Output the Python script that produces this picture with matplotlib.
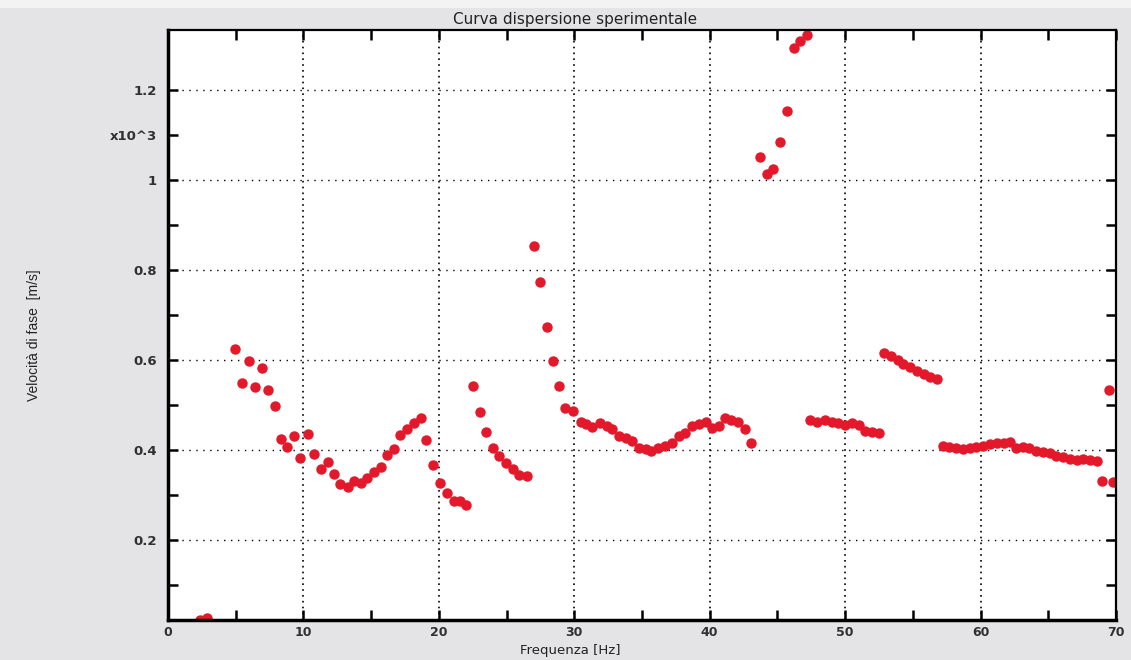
import matplotlib
matplotlib.use("Agg")
import matplotlib.pyplot as plt
from matplotlib.patches import Rectangle
from matplotlib.ticker import FixedLocator, FixedFormatter, MultipleLocator

freq = [2.4, 2.9,
        4.96, 5.46, 5.95, 6.44, 6.94, 7.38, 7.88, 8.35, 8.79, 9.33, 9.78, 10.35,
        10.81, 11.31, 11.8, 12.25, 12.74, 13.28, 13.73, 14.22, 14.72, 15.21, 15.7,
        16.2, 16.69, 17.17, 17.65, 18.17, 18.67, 19.09, 19.6, 20.1, 20.59, 21.09,
        21.58, 22.0, 22.54, 23.04, 23.48, 23.98, 24.47, 24.96, 25.46, 25.95, 26.5,
        27.01, 27.5, 28.0, 28.45, 28.85, 29.3, 29.9, 30.47, 30.9, 31.3, 31.9, 32.4,
        32.8, 33.3, 33.8, 34.3, 34.8, 35.3, 35.7, 36.2, 36.7, 37.2, 37.7, 38.2,
        38.7, 39.2, 39.7, 40.2, 40.7, 41.1, 41.6, 42.1, 42.6, 43.06,
        43.7, 44.2, 44.7, 45.2, 45.7, 46.2, 46.7, 47.2,
        47.4, 47.9, 48.5, 49.0, 49.5, 50.0, 50.5, 51.0, 51.5, 52.0, 52.5,
        52.9, 53.4, 53.9, 54.3, 54.8, 55.3, 55.8, 56.3, 56.8,
        57.2, 57.7, 58.2, 58.7, 59.2, 59.7, 60.2, 60.7, 61.2, 61.7, 62.2, 62.6,
        63.1, 63.6, 64.1, 64.6, 65.1, 65.6, 66.1, 66.6, 67.1, 67.6, 68.1, 68.6,
        69.0, 69.45, 69.8]
vel = [0.022, 0.026,
       0.624, 0.548, 0.598, 0.540, 0.581, 0.533, 0.498, 0.424, 0.407, 0.431, 0.383, 0.436,
       0.390, 0.357, 0.373, 0.346, 0.324, 0.318, 0.331, 0.327, 0.338, 0.350, 0.361,
       0.389, 0.402, 0.434, 0.447, 0.459, 0.471, 0.421, 0.367, 0.327, 0.305, 0.287,
       0.287, 0.277, 0.542, 0.484, 0.440, 0.404, 0.387, 0.370, 0.357, 0.344, 0.342,
       0.853, 0.772, 0.673, 0.598, 0.541, 0.494, 0.487, 0.463, 0.458, 0.450, 0.459, 0.453,
       0.446, 0.431, 0.426, 0.420, 0.405, 0.402, 0.398, 0.404, 0.409, 0.416, 0.431, 0.437,
       0.452, 0.458, 0.463, 0.448, 0.453, 0.470, 0.467, 0.461, 0.446, 0.415,
       1.050, 1.013, 1.024, 1.085, 1.152, 1.294, 1.309, 1.322,
       0.467, 0.463, 0.467, 0.463, 0.459, 0.456, 0.459, 0.456, 0.443, 0.439, 0.437,
       0.616, 0.609, 0.600, 0.591, 0.584, 0.576, 0.569, 0.563, 0.557,
       0.409, 0.406, 0.404, 0.403, 0.404, 0.407, 0.409, 0.413, 0.415, 0.416, 0.418, 0.404,
       0.407, 0.404, 0.398, 0.396, 0.393, 0.387, 0.385, 0.379, 0.378, 0.379, 0.378, 0.376,
       0.330, 0.533, 0.328]

yticks = [0.2, 0.4, 0.6, 0.8, 1.0, 1.1, 1.2]
ylabels = ["0.2", "0.4", "0.6", "0.8", "1", "x10^3", "1.2"]

fig = plt.figure(figsize=(11.31, 6.6), dpi=100, facecolor="#e4e4e7")
# lighter strip at the very top of the scan
fig.patches.append(Rectangle((0, 1 - 8 / 660), 1, 8 / 660, transform=fig.transFigure,
                             facecolor="#f3f3f3", edgecolor="none"))
ax = fig.add_axes([0.1485, 0.0606, 0.8382, 0.894])
ax.set_facecolor("white")

ax.plot(freq, vel, linestyle="none", marker="o", markersize=6.5,
        color="#e3182a", markeredgecolor="#e3182a")

ax.set_xlim(0, 70)
ax.set_ylim(0.022, 1.333)

ax.xaxis.set_major_locator(MultipleLocator(10))
ax.xaxis.set_minor_locator(MultipleLocator(5))
ax.yaxis.set_major_locator(FixedLocator(yticks))
ax.yaxis.set_major_formatter(FixedFormatter(ylabels))
ax.yaxis.set_minor_locator(FixedLocator([0.1, 0.3, 0.5, 0.7, 0.9]))

ax.tick_params(which="both", direction="in", top=True, right=True,
               length=7, width=1.8, color="black")
ax.tick_params(axis="y", which="major", labelsize=9.5, labelcolor="#303030", pad=8)
ax.tick_params(axis="x", which="major", labelsize=9, labelcolor="#303030", pad=4)
for lab in ax.get_xticklabels() + ax.get_yticklabels():
    lab.set_fontweight("bold")

for y in [0.2, 0.4, 0.6, 0.8, 1.0, 1.2]:
    ax.axhline(y, color="black", linestyle=(0, (1, 4)), linewidth=1.0, zorder=0)
for x in range(10, 70, 10):
    ax.axvline(x, color="black", linestyle=(0, (1, 2.5)), linewidth=1.2, zorder=0)

for side in ["left", "bottom"]:
    ax.spines[side].set_linewidth(2.5)
for side in ["top", "right"]:
    ax.spines[side].set_linewidth(1.6)

ax.set_title("Curva dispersione sperimentale", fontsize=11, color="#222222",
             x=0.429, pad=4)
ax.set_xlabel("Frequenza [Hz]", fontsize=9.5, color="#222222", va="center")
ax.xaxis.set_label_coords(0.424, -0.051)
ax.set_ylabel("Velocità di fase  [m/s]", fontsize=10, color="#222222", va="center",
              family=["Liberation Sans Narrow", "Liberation Sans", "DejaVu Sans"])
ax.yaxis.set_label_coords(-0.141, 0.483)

fig.savefig("out.png", dpi=100, facecolor=fig.get_facecolor())
